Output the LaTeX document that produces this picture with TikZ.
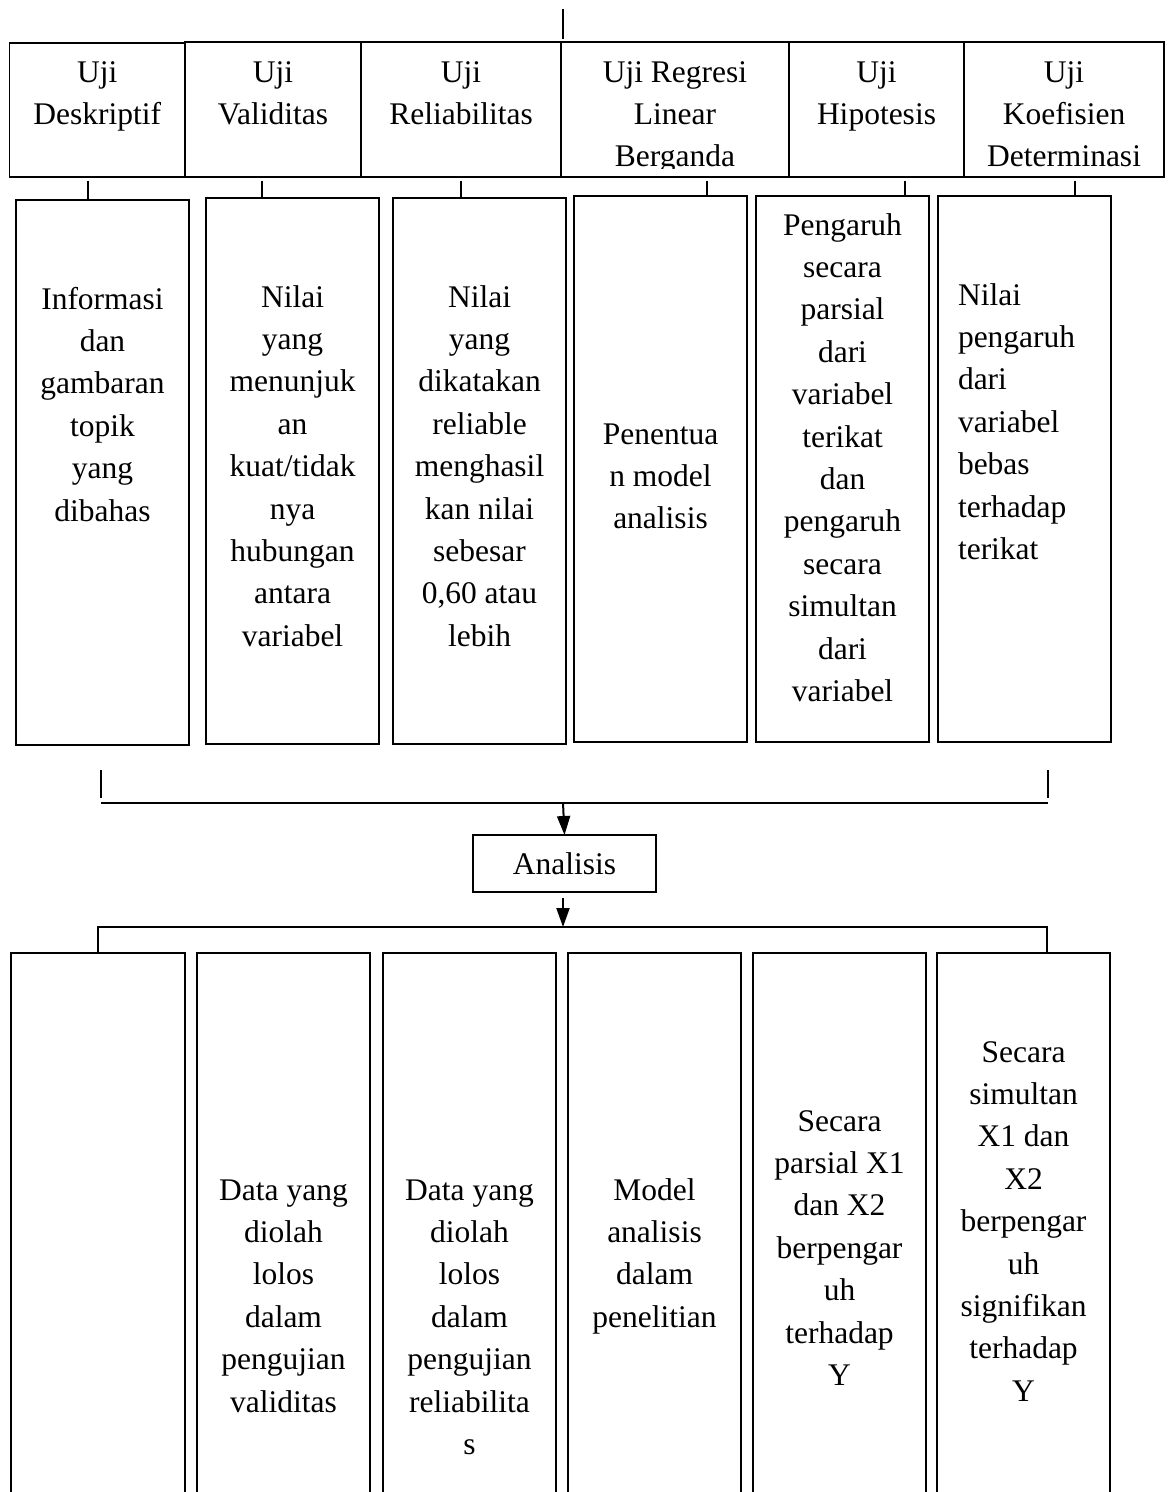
\documentclass[tikz,border=0pt]{standalone}
\usepackage{fontspec}
\setmainfont{Liberation Serif}
\usetikzlibrary{arrows.meta}
\newcommand\mytext[4]{\node[txt, anchor=base] (#1) at (#2,#3) {\parbox[t]{220pt}{\centering #4}};}
\begin{document}
\begin{tikzpicture}[x=1pt,y=-1pt,
  box/.style={draw, line width=1.5pt, inner sep=0pt, outer sep=0pt},
  txt/.style={inner sep=0pt, outer sep=0pt, font=\fontsize{31.5}{42.4}\selectfont},
  conn/.style={line width=2pt},
  arr/.style={line width=2pt, -{Triangle[length=19pt,width=13pt]}}]
\useasboundingbox (0,0) rectangle (1168,1492);
\clip (0,0) rectangle (1168,1492);
\fill[white] (0,0) rectangle (1168,1492);

% top row boxes
\node[box, minimum width=175.5pt, minimum height=134pt] (t1) at (97.25,110) {};
\node[box, minimum width=176pt, minimum height=135pt] (t2) at (273,109.5) {};
\node[box, minimum width=200pt, minimum height=135pt] (t3) at (461,109.5) {};
\node[box, minimum width=228pt, minimum height=135pt] (t4) at (675,109.5) {};
\node[box, minimum width=175pt, minimum height=135pt] (t5) at (876.5,109.5) {};
\node[box, minimum width=200pt, minimum height=135pt] (t6) at (1064,109.5) {};

\mytext{t1x}{97.25}{82}{Uji\\Deskriptif}
\mytext{t2x}{273}{82}{Uji\\Validitas}
\mytext{t3x}{461}{82}{Uji\\Reliabilitas}
\begin{scope}
\clip (561,42) rectangle (789,168);
\mytext{t4x}{675}{82}{Uji Regresi\\Linear\\Berganda}
\end{scope}
\mytext{t5x}{876.5}{82}{Uji\\Hipotesis}
\mytext{t6x}{1064}{82}{Uji\\Koefisien\\Determinasi}

% middle boxes
\node[box, minimum width=173pt, minimum height=545pt] (m1) at (102.5,472.5) {};
\node[box, minimum width=173pt, minimum height=546pt] (m2) at (292.5,471) {};
\node[box, minimum width=173pt, minimum height=546pt] (m3) at (479.5,471) {};
\node[box, minimum width=173pt, minimum height=546pt] (m4) at (660.5,469) {};
\node[box, minimum width=173pt, minimum height=546pt] (m5) at (842.5,469) {};
\node[box, minimum width=173pt, minimum height=546pt] (m6) at (1024.5,469) {};

\mytext{m1x}{102.5}{309}{Informasi\\dan\\gambaran\\topik\\yang\\dibahas}
\mytext{m2x}{292.5}{307}{Nilai\\yang\\menunjuk\\an\\kuat/tidak\\nya\\hubungan\\antara\\variabel}
\mytext{m3x}{479.5}{307}{Nilai\\yang\\dikatakan\\reliable\\menghasil\\kan nilai\\sebesar\\0,60 atau\\lebih}
\mytext{m4x}{660.5}{444}{Penentua\\n model\\analisis}
\mytext{m5x}{842.5}{235}{Pengaruh\\secara\\parsial\\dari\\variabel\\terikat\\dan\\pengaruh\\secara\\simultan\\dari\\variabel}
\node[txt, anchor=base west] (m6x) at (958,305) {\parbox[t]{150pt}{\raggedright Nilai\\pengaruh\\dari\\variabel\\bebas\\terhadap\\terikat}};

% stubs between rows
\coordinate (s1) at (88,0);
\coordinate (s2) at (262,0);
\coordinate (s3) at (461,0);
\coordinate (s4) at (707,0);
\coordinate (s5) at (905,0);
\coordinate (s6) at (1075,0);
\foreach \n in {1,...,6}{\draw[conn, shorten <=3.5pt] (t\n.south -| s\n) -- (m\n.north -| s\n);}

% top line
\coordinate (top0) at (563,9);
\draw[conn, shorten >=3.5pt] (top0) -- (top0 |- t4.north);

% Analisis
\node[box, minimum width=183pt, minimum height=57pt, font=\fontsize{31.5}{42.4}\selectfont] (an) at (564.5,863.5) {Analisis};

% upper bracket
\coordinate (L1) at (101,770);
\coordinate (R1) at (1048,770);
\coordinate (H1) at (563,803);
\draw[conn] (L1) -- ++(0,28);
\draw[conn] (R1) -- ++(0,28);
\draw[conn] (L1 |- H1) -- (R1 |- H1);
\draw[arr] (H1) -- (an.north);

% lower bracket
\coordinate (H2) at (563,927);
\coordinate (L2) at (98,927);
\coordinate (R2) at (1047,927);
\draw[arr, shorten <=6pt] (an.south -| H2) -- (H2);

% bottom boxes
\node[box, minimum width=174pt, minimum height=567pt] (b1) at (98,1236.5) {};
\node[box, minimum width=173pt, minimum height=567pt] (b2) at (283.5,1236.5) {};
\node[box, minimum width=173pt, minimum height=567pt] (b3) at (469.5,1236.5) {};
\node[box, minimum width=173pt, minimum height=567pt] (b4) at (654.5,1236.5) {};
\node[box, minimum width=173pt, minimum height=567pt] (b5) at (839.5,1236.5) {};
\node[box, minimum width=173pt, minimum height=567pt] (b6) at (1023.5,1236.5) {};

\draw[conn] (b1.north -| L2) -- (L2) -- (R2) -- (b6.north -| R2);

\mytext{b2x}{283.5}{1200}{Data yang\\diolah\\lolos\\dalam\\pengujian\\validitas}
\mytext{b3x}{469.5}{1200}{Data yang\\diolah\\lolos\\dalam\\pengujian\\reliabilita\\s}
\mytext{b4x}{654.5}{1200}{Model\\analisis\\dalam\\penelitian}
\mytext{b5x}{839.5}{1131}{Secara\\parsial X1\\dan X2\\berpengar\\uh\\terhadap\\Y}
\mytext{b6x}{1023.5}{1062}{Secara\\simultan\\X1 dan\\X2\\berpengar\\uh\\signifikan\\terhadap\\Y}
\end{tikzpicture}
\end{document}
